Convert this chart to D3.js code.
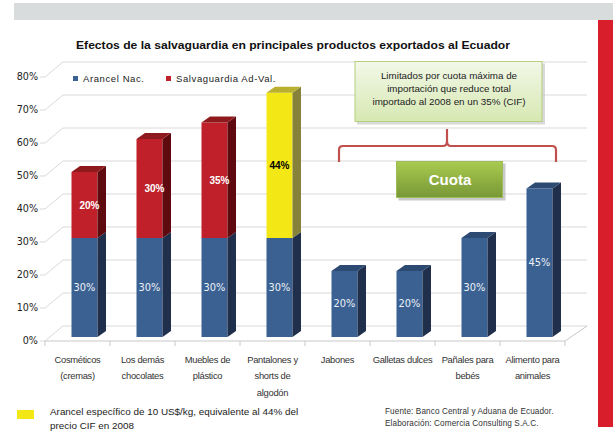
<!DOCTYPE html>
<html>
<head>
<meta charset="utf-8">
<script src="https://cdn.jsdelivr.net/npm/d3@7"></script>
<style>
  body { margin: 0; background: #fff; }
  svg { display: block; }
</style>
</head>
<body>
<div id="chart"></div>
<script>
// Efectos de la salvaguardia - 3D stacked columns

const categories = [
  'Cosméticos|(cremas)', 'Los demás|chocolates', 'Muebles de|plástico',
  'Pantalones y|shorts de|algodón', 'Jabones', 'Galletas dulces',
  'Pañales para|bebés', 'Alimento para|animales'
];
const arancelNac = [30, 30, 30, 30, 20, 20, 30, 45];
const salvaguardia = [20, 30, 35, 0, 0, 0, 0, 0];
const especifico = [0, 0, 0, 44, 0, 0, 0, 0];   // arancel específico (yellow)
const yTicks = [0, 10, 20, 30, 40, 50, 60, 70, 80];

const width = 616, height = 432;

// colours for front / side / top faces
const faces = {
  blue:   { front: '#3A6192', side: '#1F2F4C', top: '#2C4A72', label: '#EEF2F8', weight: 'normal' },
  red:    { front: '#C0202A', side: '#5E0A0F', top: '#8E1A1E', label: '#FFFFFF', weight: 'bold' },
  yellow: { front: '#F3E816', side: '#87823A', top: '#B8B02E', label: '#000000', weight: 'bold' }
};

const svg = d3.select('#chart').append('svg')
  .attr('width', width).attr('height', height);

const defs = svg.append('defs');
const g1 = defs.append('linearGradient').attr('id', 'callout').attr('x1', 0).attr('x2', 0).attr('y1', 0).attr('y2', 1);
g1.append('stop').attr('offset', '0%').attr('stop-color', '#F3F8E8');
g1.append('stop').attr('offset', '100%').attr('stop-color', '#D6E8B2');
const g2 = defs.append('linearGradient').attr('id', 'cuota').attr('x1', 0).attr('x2', 0).attr('y1', 0).attr('y2', 1);
g2.append('stop').attr('offset', '0%').attr('stop-color', '#A9CB4E');
g2.append('stop').attr('offset', '100%').attr('stop-color', '#789737');

// page frame: grey band on top, red bar on right
svg.append('rect').attr('x', 14).attr('y', 3).attr('width', 599).attr('height', 17).attr('fill', '#D9DCDC');
svg.append('rect').attr('x', 598).attr('y', 20).attr('width', 15).attr('height', 407).attr('fill', '#D81E2A');

// title
svg.append('text')
  .attr('x', 293).attr('y', 49)
  .attr('text-anchor', 'middle')
  .attr('font-family', 'Liberation Sans, Arial, sans-serif')
  .attr('font-size', '11.5px').attr('font-weight', 'bold').attr('fill', '#111')
  .attr('textLength', 434).attr('lengthAdjust', 'spacingAndGlyphs')
  .text('Efectos de la salvaguardia en principales productos exportados al Ecuador');

// scales
const x = d3.scaleBand().domain(categories).range([45, 565]).padding(0);
const y = d3.scaleLinear().domain([0, 80]).range([337, 73]);   // bar front plane
const depthX = 18, depthY = 15;   // wall depth
const barDx = 8.5, barDy = 6;     // bar depth

// gridlines (left diagonal + back wall)
const grid = svg.append('g').attr('stroke', '#D9D9D9').attr('fill', 'none').attr('stroke-width', 1);
yTicks.forEach(v => {
  const yf = y(v) + 4;
  grid.append('path').attr('d', `M40,${yf}L45,${yf}L${45 + depthX},${yf - depthY}L${565 + depthX + 4},${yf - depthY}`);
});
// floor front edge, right diagonal and ticks
const axis = svg.append('g').attr('stroke', '#C8C8C8').attr('fill', 'none');
axis.append('path').attr('d', `M45,${y(0) + 4}L565,${y(0) + 4}L${565 + depthX + 4},${y(0) + 4 - depthY}`);
categories.concat(['end']).forEach((c, i) => {
  const xx = 45 + i * x.bandwidth();
  axis.append('line').attr('x1', xx).attr('x2', xx).attr('y1', y(0) + 4).attr('y2', y(0) + 9);
});

// y labels
svg.append('g').selectAll('text').data(yTicks).enter().append('text')
  .attr('x', 38).attr('y', d => y(d) + 4).attr('dy', '0.35em')
  .attr('text-anchor', 'end')
  .attr('font-family', 'DejaVu Sans, Verdana, sans-serif')
  .attr('font-size', '9.6px').attr('fill', '#222')
  .text(d => d + '%');

// legend
const legend = svg.append('g').attr('font-family', 'Liberation Sans, Arial, sans-serif')
  .attr('font-size', '9.5px').attr('letter-spacing', '0.6px').attr('fill', '#222');
legend.append('rect').attr('x', 73).attr('y', 76).attr('width', 5).attr('height', 5).attr('fill', faces.blue.front);
legend.append('text').attr('x', 83).attr('y', 82).text('Arancel Nac.');
legend.append('rect').attr('x', 166).attr('y', 76).attr('width', 5).attr('height', 5).attr('fill', faces.red.front);
legend.append('text').attr('x', 176).attr('y', 82).text('Salvaguardia Ad-Val.');

// build stacked segments
const segments = [];
categories.forEach((c, i) => {
  const parts = [
    { v: arancelNac[i], col: faces.blue },
    { v: salvaguardia[i], col: faces.red },
    { v: especifico[i], col: faces.yellow }
  ].filter(p => p.v > 0);
  let base = 0;
  parts.forEach((p, k) => {
    segments.push({ cat: c, i, y0: base, y1: base + p.v, v: p.v, col: p.col, top: k === parts.length - 1 });
    base += p.v;
  });
});

const bars = svg.append('g');
segments.forEach(s => {
  const xc = x(s.cat) + x.bandwidth() / 2;
  const x0 = xc - 6, x1 = xc + 20;
  const yt = y(s.y1), yb = y(s.y0);
  bars.append('rect').attr('x', x0).attr('y', yt).attr('width', x1 - x0).attr('height', yb - yt).attr('fill', s.col.front);
  bars.append('path').attr('d', `M${x1},${yt}L${x1 + barDx},${yt - barDy}L${x1 + barDx},${yb - barDy}L${x1},${yb}Z`).attr('fill', s.col.side);
  if (s.top) {
    bars.append('path').attr('d', `M${x0},${yt}L${x0 + barDx},${yt - barDy}L${x1 + barDx},${yt - barDy}L${x1},${yt}Z`).attr('fill', s.col.top);
  }
  const bold = s.col.weight === 'bold';
  bars.append('text')
    .attr('x', xc + 7 + (s.col === faces.red ? 5 : 0))
    .attr('y', (yt + yb) / 2).attr('dy', '0.35em')
    .attr('text-anchor', 'middle')
    .attr('font-family', bold ? 'Liberation Sans, Arial, sans-serif' : 'DejaVu Sans, Verdana, sans-serif')
    .attr('font-size', bold ? '10px' : '9.8px')
    .attr('font-weight', s.col.weight)
    .attr('fill', s.col.label)
    .text(s.v + '%');
});

// category labels
const catLabels = svg.append('g').attr('font-family', 'Liberation Sans, Arial, sans-serif')
  .attr('font-size', '9.4px').attr('letter-spacing', '-0.3px').attr('fill', '#333').attr('text-anchor', 'middle');
categories.forEach(c => {
  c.split('|').forEach((line, k) => {
    catLabels.append('text')
      .attr('x', x(c) + x.bandwidth() / 2).attr('y', 362.5 + k * 16.5)
      .text(line);
  });
});

// callout box
svg.append('rect').attr('x', 357).attr('y', 63.5).attr('width', 188).attr('height', 61).attr('fill', '#BFBFBF').attr('opacity', 0.6);
svg.append('rect').attr('x', 355).attr('y', 61.5).attr('width', 187).attr('height', 60)
  .attr('fill', 'url(#callout)').attr('stroke', '#B5CF7E').attr('stroke-width', 1);
const calloutLines = ['Limitados por cuota máxima de', 'importación que reduce total', 'importado al 2008 en un 35% (CIF)'];
svg.append('g').attr('font-family', 'Liberation Sans, Arial, sans-serif').attr('font-size', '9.8px')
  .attr('fill', '#222').attr('text-anchor', 'middle')
  .selectAll('text').data(calloutLines).enter().append('text')
  .attr('x', 449).attr('y', (d, k) => 78.5 + k * 13.4).text(d => d);

// brace
svg.append('path')
  .attr('d', 'M339,162L339,150Q339,146 343,146L443,146Q447,146 447,141L447,129L447,141Q447,146 451,146L552,146Q556,146 556,150L556,162')
  .attr('fill', 'none').attr('stroke', '#C0504D').attr('stroke-width', 2.2);

// cuota box
svg.append('rect').attr('x', 398.5).attr('y', 163.5).attr('width', 107).attr('height', 37).attr('fill', '#A6A6A6').attr('opacity', 0.6);
svg.append('rect').attr('x', 396.5).attr('y', 161.5).attr('width', 106).attr('height', 36)
  .attr('fill', 'url(#cuota)').attr('stroke', '#9CBB5A').attr('stroke-width', 1);
svg.append('text').attr('x', 450).attr('y', 179.5).attr('dy', '0.35em').attr('text-anchor', 'middle')
  .attr('font-family', 'Liberation Sans, Arial, sans-serif').attr('font-size', '15px').attr('font-weight', 'bold')
  .attr('fill', '#fff').text('Cuota');

// footnote with yellow key
svg.append('rect').attr('x', 17).attr('y', 410).attr('width', 17).attr('height', 9).attr('fill', '#F3E816');
const foot = ['Arancel específico de 10 US$/kg, equivalente al 44% del', 'precio CIF en 2008'];
svg.append('g').attr('font-family', 'Liberation Sans, Arial, sans-serif').attr('font-size', '9.9px').attr('fill', '#222')
  .selectAll('text').data(foot).enter().append('text')
  .attr('x', 50).attr('y', (d, k) => 415 + k * 13.5).text(d => d);

// source
const source = ['Fuente: Banco Central y Aduana de Ecuador.', 'Elaboración: Comercia Consulting S.A.C.'];
svg.append('g').attr('font-family', 'Liberation Sans, Arial, sans-serif').attr('font-size', '8.2px').attr('fill', '#333')
  .attr('letter-spacing', '0.1px')
  .selectAll('text').data(source).enter().append('text')
  .attr('x', 385).attr('y', (d, k) => 413.5 + k * 12).text(d => d);
</script>
</body>
</html>
